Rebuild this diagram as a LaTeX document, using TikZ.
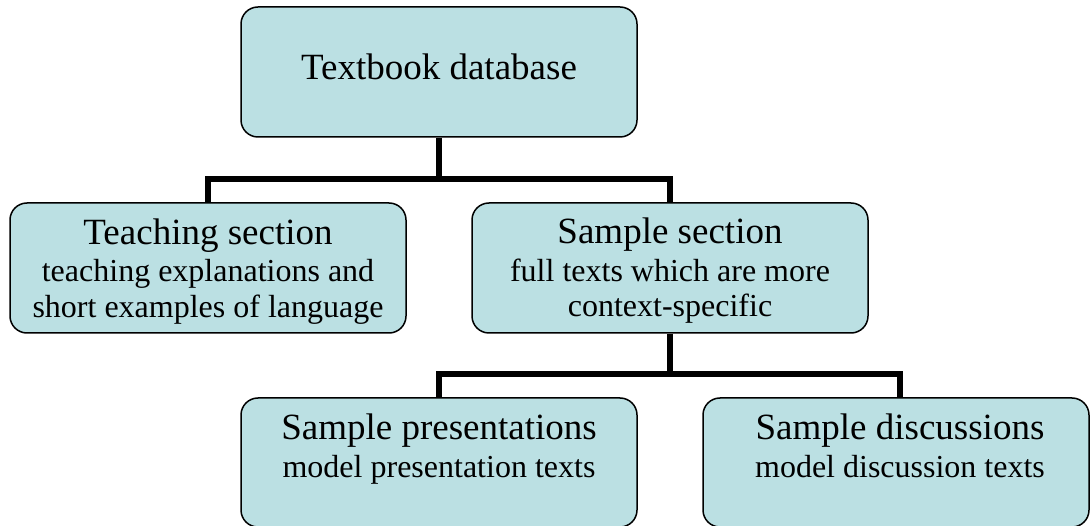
\documentclass[tikz,border=0pt]{standalone}
\usepackage{fontspec}
\setmainfont{Liberation Serif}
\definecolor{boxfill}{HTML}{BBE0E3}
\begin{document}
\begin{tikzpicture}[x=1pt,y=-1pt,
  box/.style={draw=black, line width=1.5pt, fill=boxfill, rounded corners=17pt, inner sep=0pt},
  title/.style={anchor=base, font=\fontsize{37}{37}\selectfont, inner sep=0pt},
  sub/.style={anchor=base, font=\fontsize{32}{36}\selectfont, inner sep=0pt},
  conn/.style={line width=6pt, line cap=rect}]
\useasboundingbox (0,0) rectangle (1090,526);
% boxes
\node[box, minimum width=396pt, minimum height=130pt] (top) at (439,72) {};
\node[box, minimum width=396pt, minimum height=130pt] (teach) at (208,268) {};
\node[box, minimum width=396pt, minimum height=130pt] (samp) at (670,268) {};
\node[box, minimum width=396pt, minimum height=129pt] (pres) at (439,462.5) {};
\node[box, minimum width=386pt, minimum height=129pt] (disc) at (896,462.5) {};
% texts
\node[title] (t1) at (439,80) {Textbook database};
\node[title] (t2) at (208,245) {Teaching section};
\node[sub] (t2a) at (208,282) {teaching explanations and};
\node[sub] (t2b) at (208,318) {short examples of language};
\node[title] (t3) at (670,244) {Sample section};
\node[sub] (t3a) at (670,282) {full texts which are more};
\node[sub] (t3b) at (670,317) {context-specific};
\node[title] (t4) at (439,440) {Sample presentations};
\node[sub] (t4a) at (439,478) {model presentation texts};
\node[title] (t5) at (900,440) {Sample discussions};
\node[sub] (t5a) at (900,478) {model discussion texts};
% connectors
\coordinate (j1) at (439,179);
\coordinate (j2) at (670,374);
\draw[line width=6pt] (top.south) -- (j1);
\draw[line width=6pt] (teach.north) |- (j1) -| (samp.north);
\draw[line width=6pt] (samp.south) -- (j2);
\draw[line width=6pt] (pres.north) |- (j2) -| (900,398);
\end{tikzpicture}
\end{document}
